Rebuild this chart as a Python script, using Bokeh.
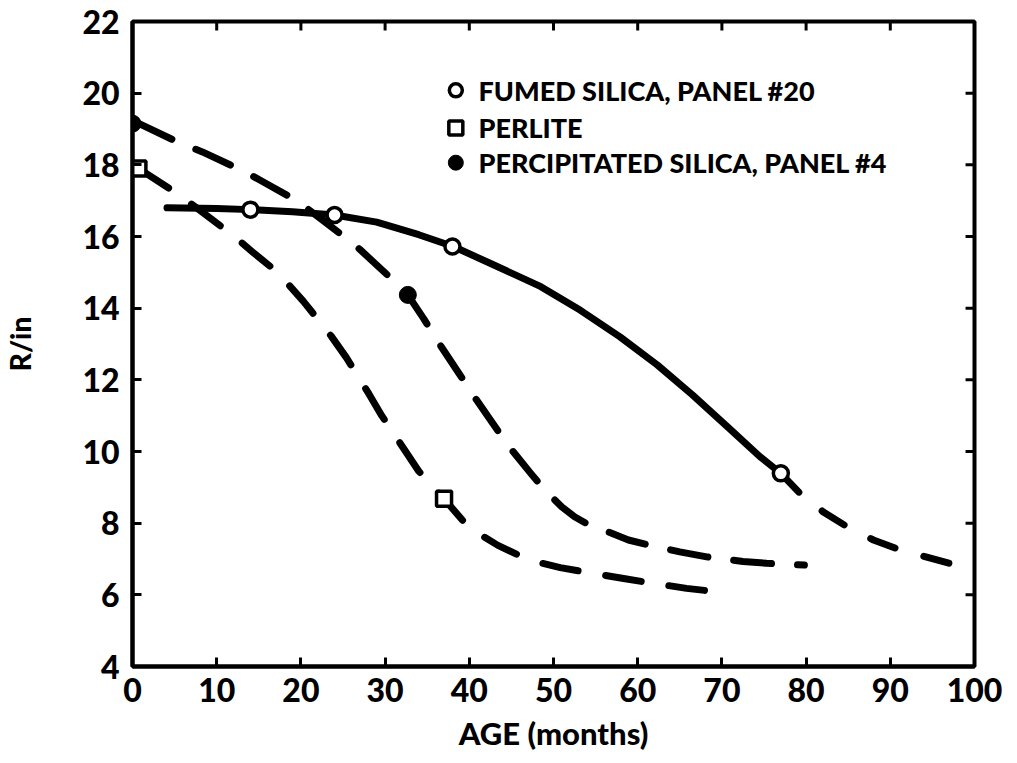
from bokeh.plotting import figure
from bokeh.models import Range1d, FixedTicker
from bokeh.embed import file_html
from bokeh.resources import INLINE
from bokeh.core.properties import value

# ---- data ----
fumed_pts_x = [14, 24, 38, 77]
fumed_pts_y = [16.75, 16.6, 15.72, 9.39]
fumed_curve_x = [4.1, 10, 14, 19, 24, 29, 34, 38.1, 42.6, 48.5, 53.2, 57.9, 62.3, 66.5, 70.9, 74.5, 77]
fumed_curve_y = [16.8, 16.78, 16.75, 16.69, 16.6, 16.4, 16.05, 15.72, 15.24, 14.6, 13.94, 13.2, 12.42, 11.58, 10.64, 9.86, 9.39]
fumed_ext_x = [77, 79.2, 82, 85, 88, 91, 94, 97.3]
fumed_ext_y = [9.39, 8.85, 8.32, 7.88, 7.53, 7.27, 7.07, 6.86]

perlite_pts_x = [0.7, 37.0]
perlite_pts_y = [17.9, 8.68]
perlite_curve_x = [0.7, 5.3, 7.9, 12.1, 14.2, 16.9, 18.3, 20.3, 23.6, 25.4, 28.1, 29.6, 32.3, 34.0, 37.0,
                   39.2, 41.3, 43.4, 45.9, 48.3, 50.8, 53.4, 58.5, 61.1, 65.8, 68.9]
perlite_curve_y = [17.9, 17.2, 16.75, 16.0, 15.58, 15.06, 14.72, 14.19, 13.22, 12.62, 11.6, 11.0, 10.05, 9.45, 8.68,
                   8.08, 7.68, 7.38, 7.1, 6.9, 6.76, 6.65, 6.45, 6.35, 6.18, 6.1]

precip_pts_x = [0.0, 32.7]
precip_pts_y = [19.15, 14.37]
precip_curve_x = [0.6, 5.7, 8.3, 13.4, 15.7, 19.5, 22.5, 25.1, 27.0, 30.4, 32.7, 34.6, 36.4, 38.8, 40.5, 42.8,
                  44.6, 47.3, 49.1, 51.0, 52.5, 54.0, 55.5, 58.9, 61.5, 65.0, 68.2, 72.5, 75.3, 79.8]
precip_curve_y = [19.17, 18.6, 18.36, 17.8, 17.5, 17.0, 16.47, 16.0, 15.64, 14.9, 14.37, 13.7, 13.02, 12.17, 11.56, 10.78,
                  10.17, 9.39, 8.89, 8.45, 8.18, 7.98, 7.85, 7.53, 7.38, 7.2, 7.06, 6.93, 6.88, 6.83]

x_ticks = [0, 10, 20, 30, 40, 50, 60, 70, 80, 90, 100]
y_ticks = [4, 6, 8, 10, 12, 14, 16, 18, 20, 22]

legend_labels = ["FUMED SILICA, PANEL #20", "PERLITE", "PERCIPITATED SILICA, PANEL #4"]
legend_y = [20.08, 19.03, 18.06]
legend_x = 38.4

FONT = "'Lato Black', 'Liberation Sans', sans-serif"

X0, X1, Y0, Y1 = 0, 100, 4, 22
p = figure(width=1004, height=754, output_backend="svg", toolbar_location=None,
           x_range=Range1d(X0, X1), y_range=Range1d(Y0, Y1),
           min_border_left=126, min_border_right=30, min_border_top=21, min_border_bottom=86,
           x_axis_label="AGE (months)", y_axis_label="R/in")
p.grid.visible = False
p.outline_line_color = "black"
p.outline_line_width = 4
p.background_fill_color = "white"
p.border_fill_color = "white"

for ax, ticks in ((p.xaxis[0], x_ticks), (p.yaxis[0], y_ticks)):
    ax.ticker = FixedTicker(ticks=ticks)
    ax.axis_line_width = 4
    ax.axis_line_color = "black"
    ax.major_tick_in = 9
    ax.major_tick_out = 0
    ax.major_tick_line_width = 3
    ax.minor_tick_line_color = None
    ax.major_label_text_font = FONT
    ax.major_label_text_font_style = "bold"
    ax.major_label_text_font_size = "32px"
    ax.major_label_text_color = "black"
    ax.axis_label_text_font = FONT
    ax.axis_label_text_font_style = "bold"
    ax.axis_label_text_color = "black"

p.xaxis[0].axis_label_text_font_size = "31px"
p.yaxis[0].axis_label_text_font_size = "28px"
p.xaxis[0].major_label_standoff = 11
p.xaxis[0].axis_label_standoff = 9
p.yaxis[0].major_label_standoff = 13
p.yaxis[0].axis_label_standoff = 42

# inward ticks on the top and right frame edges
tick_dx = 9 / 8.46
tick_dy = 9 / 36.0
p.segment(x0=x_ticks, y0=[Y1] * len(x_ticks), x1=x_ticks, y1=[Y1 - tick_dy] * len(x_ticks),
          line_color="black", line_width=3)
p.segment(x0=[X1] * len(y_ticks), y0=y_ticks, x1=[X1 - tick_dx] * len(y_ticks), y1=y_ticks,
          line_color="black", line_width=3)

LW = 7
# curves
p.line(fumed_curve_x, fumed_curve_y, line_width=LW, color="black", line_cap="round", line_join="round")
p.line(fumed_ext_x, fumed_ext_y, line_width=LW, color="black", line_cap="round", line_join="round",
       line_dash="26 30")
p.line(perlite_curve_x, perlite_curve_y, line_width=LW, color="black", line_cap="round", line_join="round",
       line_dash="36 28")
p.line(precip_curve_x, precip_curve_y, line_width=LW, color="black", line_cap="round", line_join="round",
       line_dash="38 26")

# markers
p.scatter(fumed_pts_x, fumed_pts_y, marker="circle", size=15, fill_color="white",
          line_color="black", line_width=3.5)
p.scatter(perlite_pts_x, perlite_pts_y, marker="square", size=15, fill_color="white",
          line_color="black", line_width=3.5)
p.scatter(precip_pts_x, precip_pts_y, marker="circle", size=17, fill_color="black",
          line_color="black", line_width=1)

# legend (drawn manually to match the reference)
p.scatter([legend_x], [legend_y[0]], marker="circle", size=13, fill_color="white",
          line_color="black", line_width=3.5)
p.scatter([legend_x], [legend_y[1]], marker="square", size=14, fill_color="white",
          line_color="black", line_width=3.5)
p.scatter([legend_x], [legend_y[2]], marker="circle", size=15, fill_color="black",
          line_color="black")
p.text(x=[legend_x + 2.7] * 3, y=legend_y, text=legend_labels,
       text_font=value(FONT), text_font_style="bold", text_font_size="27px",
       text_baseline="middle", text_align="left", text_color="black")

open("out.html", "w").write(file_html(p, INLINE))
